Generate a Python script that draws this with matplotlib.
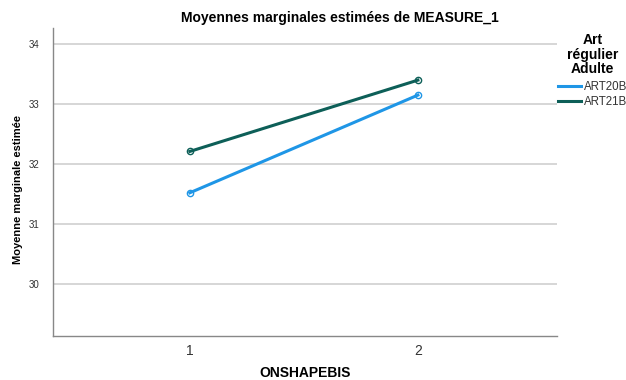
import matplotlib
matplotlib.use('Agg')
import matplotlib.pyplot as plt
from matplotlib.lines import Line2D

# Données
niveaux = [1, 2]
art20b = [31.52, 33.15]
art21b = [32.21, 33.40]
series = ['ART20B', 'ART21B']
couleurs = ['#1f96e6', '#0d5f58']
yticks = [30, 31, 32, 33, 34]

plt.rcParams['font.family'] = ['Liberation Sans', 'DejaVu Sans']

fig = plt.figure(figsize=(6.26, 3.80), dpi=100)
ax = fig.add_axes([53 / 626, 1 - 336 / 380, (557 - 53) / 626, (336 - 28) / 380])

for vals, col, lab in zip([art20b, art21b], couleurs, series):
    ax.plot(niveaux, vals, color=col, linewidth=2.2, label=lab, zorder=3)
    ax.plot(niveaux, vals, linestyle='none', marker='o', markersize=4.5,
            markerfacecolor='none', markeredgecolor=col, markeredgewidth=1.0, zorder=4)

ax.set_xlim(0.4, 2.61)
ax.set_ylim(29.13, 34.27)
ax.set_xticks(niveaux)
ax.set_xticklabels([str(n) for n in niveaux], fontsize=10, color='#333333')
ax.set_yticks(yticks)
ax.set_yticklabels([str(t) for t in yticks], fontsize=7, color='#333333')
ax.tick_params(length=0)
ax.tick_params(axis='x', pad=6)
ax.tick_params(axis='y', pad=10)
ax.grid(axis='y', color='#d0d0d0', linewidth=1.2, zorder=0)

for s in ['top', 'right']:
    ax.spines[s].set_visible(False)
for s in ['left', 'bottom']:
    ax.spines[s].set_color('#888888')
    ax.spines[s].set_linewidth(1.0)

fig.text(305 / 626, 1 - 373 / 380, 'ONSHAPEBIS', ha='center', va='center',
         fontsize=10, fontweight='bold')
fig.text(18 / 626, 1 - 190 / 380, 'Moyenne marginale estimée', ha='center', va='center',
         rotation=90, fontsize=8, fontweight='bold')
fig.text(340 / 626, 1 - 18 / 380, 'Moyennes marginales estimées de MEASURE_1',
         ha='center', va='center', fontsize=10, fontweight='bold')

handles = [Line2D([0], [0], color=c, linewidth=2.2) for c in couleurs]
leg = fig.legend(handles, series, loc='upper left', bbox_to_anchor=(556 / 626, 1 - 31 / 380),
                 frameon=False, fontsize=8.3, title='Art\nrégulier\nAdulte',
                 title_fontproperties={'weight': 'bold', 'size': 10},
                 handlelength=2.0, handletextpad=0.2, labelspacing=0.3, borderpad=0.2,
                 borderaxespad=0)
leg._legend_box.align = 'center'
leg._legend_box.sep = 3
leg.get_title().set_multialignment('center')
leg.get_title().set_linespacing(1.05)
for t in leg.get_texts():
    t.set_color('#333333')

fig.savefig('out.png', dpi=100)
